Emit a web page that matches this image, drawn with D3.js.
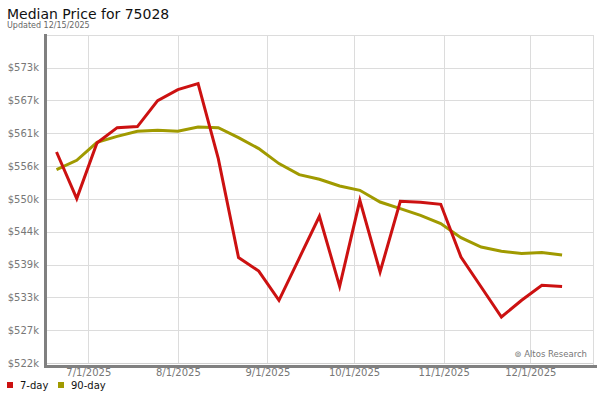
<!DOCTYPE html>
<html><head><meta charset="utf-8">
<script src="https://cdn.jsdelivr.net/npm/d3@7"></script>
<style>body{margin:0;background:#fff;font-family:"DejaVu Sans",sans-serif;}</style>
</head><body>
<svg id="c" width="600" height="400"></svg>
<script>
const dates = ["2025-06-20","2025-06-27","2025-07-04","2025-07-11","2025-07-18","2025-07-25","2025-08-01","2025-08-08","2025-08-15","2025-08-22","2025-08-29","2025-09-05","2025-09-12","2025-09-19","2025-09-26","2025-10-03","2025-10-10","2025-10-17","2025-10-24","2025-10-31","2025-11-07","2025-11-14","2025-11-21","2025-11-28","2025-12-05","2025-12-12"];
const sevenDay = [558130,550090,559690,562340,562520,567010,568910,569940,556990,539900,537580,532530,539780,547030,534940,549790,537410,549620,549450,549100,540000,534820,529640,532530,535120,534890];
const ninetyDay = [555090,556700,559810,560840,561710,561880,561710,562450,562340,560620,558720,556130,554230,553420,552260,551520,549500,548360,547200,545770,543350,541730,540990,540590,540760,540350];
const yTicks = [521700,527367,533033,538700,544367,550033,555700,561367,567033,572700];
const yTickLabels = ["$522k","$527k","$533k","$539k","$544k","$550k","$556k","$561k","$567k","$573k"];
const xTicks = ["2025-07-01","2025-08-01","2025-09-01","2025-10-01","2025-11-01","2025-12-01"];
const xTickLabels = ["7/1/2025","8/1/2025","9/1/2025","10/1/2025","11/1/2025","12/1/2025"];
const seriesNames = ["7-day","90-day"];
const colors = ["#cc1111","#a09a00"];

const svg = d3.select("#c");
const L=47,R=593,T=35,B=363;
const parse = d3.utcParse("%Y-%m-%d");
const x = d3.scaleUtc().domain([parse("2025-06-09"), parse("2025-12-22")]).range([L,R]);
// calibrate: 7/1 at 88.3, 12/1 at 530.3
const d0=parse("2025-07-01"), d1=parse("2025-12-01");
const pxPerMs = (530.3-88.3)/(d1-d0);
x.domain([new Date(d0.getTime()-(88.3-L)/pxPerMs), new Date(d0.getTime()+(R-88.3)/pxPerMs)]);
const step = yTicks[1]-yTicks[0];
const y = d3.scaleLinear().domain([yTicks[0], yTicks[0]+step*(B-T)/32.82]).range([B,T]);

svg.append("text").attr("x",7).attr("y",19).attr("font-size",14).attr("fill","#111").text("Median Price for 75028");
svg.append("text").attr("x",7).attr("y",28).attr("font-size",8).attr("fill","#666").text("Updated 12/15/2025");

// grid
const g = svg.append("g");
g.selectAll(".hy").data(yTicks).join("line").attr("x1",L).attr("x2",R)
 .attr("y1",d=>Math.round(y(d))+0.5).attr("y2",d=>Math.round(y(d))+0.5).attr("stroke","#dcdcdc").attr("stroke-width",1);
g.selectAll(".vx").data(xTicks).join("line").attr("y1",T).attr("y2",B)
 .attr("x1",d=>Math.round(x(parse(d)))+0.5).attr("x2",d=>Math.round(x(parse(d)))+0.5).attr("stroke","#dcdcdc");
// frame
svg.append("line").attr("x1",L).attr("x2",R).attr("y1",T+0.5).attr("y2",T+0.5).attr("stroke","#dcdcdc");
svg.append("line").attr("x1",R+0.5).attr("x2",R+0.5).attr("y1",T).attr("y2",B+2).attr("stroke","#dcdcdc");
svg.append("line").attr("x1",L).attr("x2",R).attr("y1",B+0.5).attr("y2",B+0.5).attr("stroke","#d0d0d0");
svg.append("rect").attr("x",44).attr("y",T-1).attr("width",3).attr("height",B+4-T+1).attr("fill","#808080");
svg.append("rect").attr("x",44).attr("y",B+2).attr("width",597-44).attr("height",3).attr("fill","#808080");

// axes
const yAxis = d3.axisLeft(y).tickValues(yTicks).tickFormat((d,i)=>yTickLabels[i]).tickSize(0).tickPadding(0);
const ya = svg.append("g").attr("transform",`translate(${L-8},0)`).call(yAxis);
ya.select(".domain").remove();
ya.selectAll("text").attr("font-size",10).attr("fill","#777").attr("font-family","DejaVu Sans");
const xAxis = d3.axisBottom(x).tickValues(xTicks.map(parse)).tickFormat((d,i)=>xTickLabels[i]).tickSize(0).tickPadding(0);
const xa = svg.append("g").attr("transform",`translate(0,${369})`).call(xAxis);
xa.select(".domain").remove();
xa.selectAll("text").attr("font-size",10).attr("fill","#777").attr("font-family","DejaVu Sans");

svg.append("text").attr("x",587).attr("y",357).attr("text-anchor","end").attr("font-size",8.5).attr("fill","#777").text("\u229A Altos Research");

// lines
const line = d3.line().x((d,i)=>x(parse(dates[i]))).y(d=>y(d));
[sevenDay, ninetyDay].forEach((s,k)=>{
  svg.append("path").datum(s).attr("d",line).attr("fill","none").attr("stroke",colors[k])
    .attr("stroke-width",3).attr("stroke-linejoin","miter");
});
// draw 7-day on top
svg.selectAll("path").filter((d)=>d===sevenDay).raise();

// legend
const legX=[7,58];
seriesNames.forEach((n,k)=>{
  svg.append("rect").attr("x",legX[k]).attr("y",382).attr("width",6).attr("height",6).attr("fill",colors[k]);
  svg.append("text").attr("x",legX[k]+13).attr("y",389).attr("font-size",10).attr("fill","#111").text(n);
});
</script>
</body></html>
